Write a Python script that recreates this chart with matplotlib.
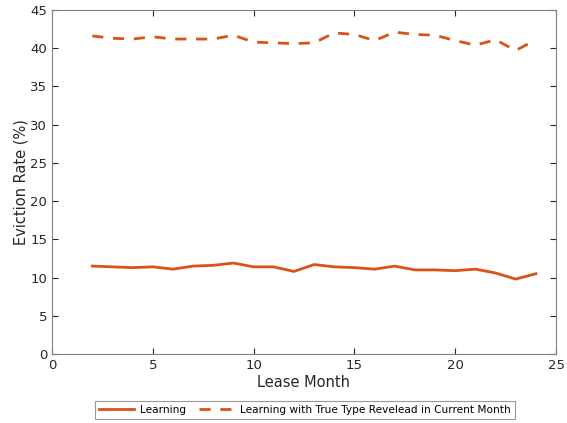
import matplotlib
matplotlib.use("Agg")
import matplotlib.pyplot as plt

months = list(range(2, 25))
learning = [11.5, 11.4, 11.3, 11.4, 11.1, 11.5, 11.6, 11.9, 11.4, 11.4, 10.8, 11.7,
            11.4, 11.3, 11.1, 11.5, 11.0, 11.0, 10.9, 11.1, 10.6, 9.8, 10.5]
revealed = [41.6, 41.3, 41.2, 41.5, 41.2, 41.2, 41.2, 41.7, 40.8, 40.7, 40.6, 40.7,
            42.0, 41.8, 41.0, 42.1, 41.8, 41.7, 41.0, 40.4, 41.1, 39.7, 41.1]
xticks = [0, 5, 10, 15, 20, 25]
yticks = [0, 5, 10, 15, 20, 25, 30, 35, 40, 45]

color = "#D95319"
fig = plt.figure(figsize=(5.67, 4.23), dpi=100)
ax = fig.add_axes([0.0917, 0.1631, 0.8889, 0.8133])
ax.plot(months, learning, color=color, lw=2, label="Learning")
ax.plot(months, revealed, color=color, lw=2, ls=(0, (4, 3.5)),
        label="Learning with True Type Revelead in Current Month")
ax.set_xlim(0, 25)
ax.set_ylim(0, 45)
ax.set_xticks(xticks)
ax.set_yticks(yticks)
ax.tick_params(direction="in", top=True, right=True, colors="#262626", labelsize=9.5, length=4)
for s in ax.spines.values():
    s.set_color("#808080")
ax.set_xlabel("Lease Month", fontsize=10.5, color="#262626", labelpad=2)
ax.set_ylabel("Eviction Rate (%)", fontsize=10.5, color="#262626", labelpad=1)
leg = fig.legend(loc="center", bbox_to_anchor=(0.538, 0.031), ncol=2, fontsize=7.6,
                 frameon=True, fancybox=False, edgecolor="#808080", handlelength=3.3,
                 borderpad=0.35, columnspacing=1.2, handletextpad=0.6)
leg.get_frame().set_linewidth(0.8)
fig.savefig("out.png", dpi=100)
